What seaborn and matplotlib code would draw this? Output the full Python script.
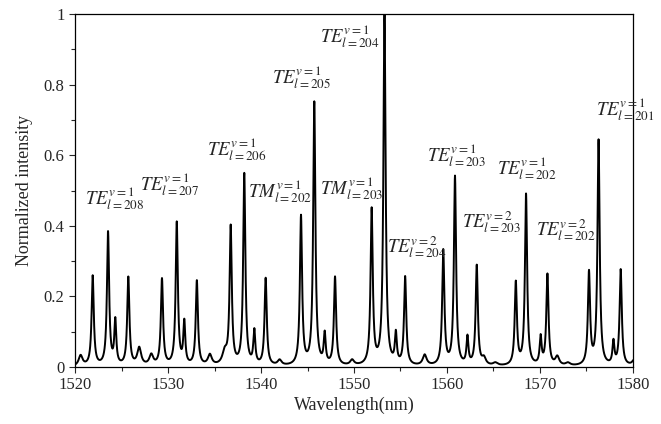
import numpy as np
import pandas as pd
import matplotlib.pyplot as plt
import seaborn as sns
from matplotlib.ticker import MultipleLocator, FormatStrFormatter

# resonance peaks (nm, normalized height, FWHM nm)
peak_centers = [1520.6, 1521.9, 1523.55, 1524.33, 1525.73, 1526.9, 1528.2, 1529.35,
                1530.94, 1531.75, 1533.1, 1534.5, 1536.1, 1536.74, 1538.2, 1539.28,
                1540.5, 1542.0, 1544.3, 1545.73, 1546.85, 1547.96, 1549.8, 1551.9,
                1553.28, 1554.5, 1555.5, 1557.6, 1559.6, 1560.86, 1562.2, 1563.2,
                1563.97, 1565.2, 1567.4, 1568.5, 1570.07, 1570.8, 1571.86, 1573.0,
                1575.27, 1576.3, 1577.9, 1578.68, 1580.3]
peak_heights = [0.03, 0.255, 0.378, 0.125, 0.25, 0.05, 0.03, 0.245,
                0.405, 0.12, 0.24, 0.03, 0.035, 0.39, 0.542, 0.095,
                0.247, 0.015, 0.422, 0.745, 0.085, 0.25, 0.015, 0.44,
                0.995, 0.085, 0.25, 0.03, 0.325, 0.535, 0.078, 0.283,
                0.02, 0.008, 0.235, 0.485, 0.078, 0.258, 0.025, 0.008,
                0.262, 0.638, 0.065, 0.272, 0.035]
peak_widths = [0.5, 0.28, 0.28, 0.25, 0.28, 0.5, 0.5, 0.28,
               0.28, 0.25, 0.28, 0.5, 0.6, 0.28, 0.28, 0.25,
               0.28, 0.5, 0.28, 0.28, 0.25, 0.28, 0.5, 0.28,
               0.28, 0.25, 0.28, 0.5, 0.28, 0.28, 0.25, 0.28,
               0.5, 0.6, 0.28, 0.28, 0.25, 0.28, 0.5, 0.6,
               0.28, 0.28, 0.25, 0.28, 0.5]

# mode labels and where they sit
mode_labels = [r'$TE_{l=208}^{v=1}$', r'$TE_{l=207}^{v=1}$', r'$TE_{l=206}^{v=1}$',
               r'$TM_{l=202}^{v=1}$', r'$TE_{l=205}^{v=1}$', r'$TM_{l=203}^{v=1}$',
               r'$TE_{l=204}^{v=1}$', r'$TE_{l=204}^{v=2}$', r'$TE_{l=203}^{v=1}$',
               r'$TE_{l=203}^{v=2}$', r'$TE_{l=202}^{v=1}$', r'$TE_{l=202}^{v=2}$',
               r'$TE_{l=201}^{v=1}$']
label_x = [1521.1, 1527.0, 1534.15, 1538.6, 1541.2, 1546.3, 1546.3, 1553.6,
           1557.8, 1561.6, 1565.35, 1569.6, 1576.0]
label_y = [0.476, 0.516, 0.615, 0.497, 0.819, 0.504, 0.935, 0.341,
           0.60, 0.412, 0.563, 0.388, 0.728]

wl = np.linspace(1520, 1580, 6001)
inten = np.zeros_like(wl)
for c, h, w in zip(peak_centers, peak_heights, peak_widths):
    hw = w / 2
    inten += h * hw**2 / ((wl - c)**2 + hw**2)
df = pd.DataFrame({'Wavelength': wl, 'Intensity': inten})

sns.set_style('ticks')
plt.rcParams['font.family'] = ['Liberation Serif', 'DejaVu Serif']
plt.rcParams['mathtext.fontset'] = 'stix'

fig = plt.figure(figsize=(6.61, 4.24), dpi=100)
ax = fig.add_axes([0.1135, 0.1344, 0.8441, 0.8326])
sns.lineplot(data=df, x='Wavelength', y='Intensity', color='black', linewidth=1.4,
             estimator=None, sort=False, ax=ax)

for t, x, y in zip(mode_labels, label_x, label_y):
    ax.text(x, y, t, fontsize=13.5, ha='left', va='center')

ax.set_xlim(1520, 1580)
ax.set_ylim(0, 1)
ax.xaxis.set_major_locator(MultipleLocator(10))
ax.xaxis.set_minor_locator(MultipleLocator(5))
ax.yaxis.set_major_locator(MultipleLocator(0.2))
ax.yaxis.set_minor_locator(MultipleLocator(0.1))
ax.yaxis.set_major_formatter(FormatStrFormatter('%g'))
ax.tick_params(which='major', length=4, width=0.8, labelsize=12, direction='out')
ax.tick_params(which='minor', length=3, width=0.8, direction='out')
for s in ax.spines.values():
    s.set_linewidth(0.9)
    s.set_color('black')
ax.set_xlabel('Wavelength(nm)', fontsize=13, labelpad=2)
ax.set_ylabel('Normalized intensity', fontsize=13, labelpad=8)

fig.savefig('out.png', dpi=100)
